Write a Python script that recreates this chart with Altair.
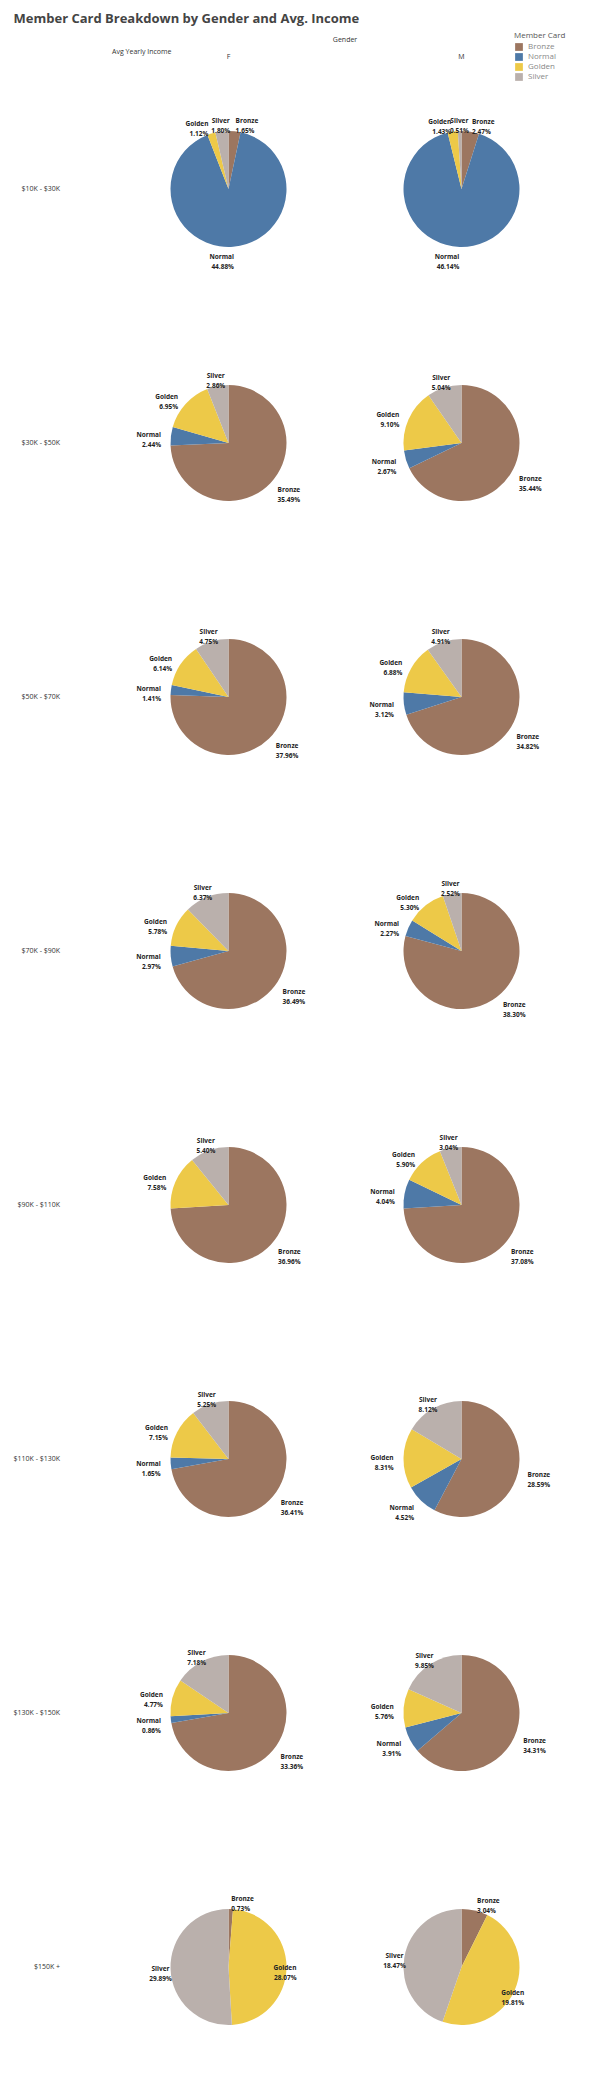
import altair as alt
import pandas as pd

incomes = ["$10K - $30K", "$30K - $50K", "$50K - $70K", "$70K - $90K",
           "$90K - $110K", "$110K - $130K", "$130K - $150K", "$150K +"]
cards = ["Bronze", "Normal", "Golden", "Silver"]
card_colors = ["#9c7660", "#4e79a7", "#edc948", "#bab0ac"]

# percent of row total, order: Bronze, Normal, Golden, Silver (None = no slice)
female = [
    [1.65, 44.88, 1.12, 1.80],
    [35.49, 2.44, 6.95, 2.86],
    [37.96, 1.41, 6.14, 4.75],
    [36.49, 2.97, 5.78, 6.37],
    [36.96, None, 7.58, 5.40],
    [36.41, 1.65, 7.15, 5.25],
    [33.36, 0.86, 4.77, 7.18],
    [0.73, None, 28.07, 29.89],
]
male = [
    [2.47, 46.14, 1.43, 0.51],
    [35.44, 2.67, 9.10, 5.04],
    [34.82, 3.12, 6.88, 4.91],
    [38.30, 2.27, 5.30, 2.52],
    [37.08, 4.04, 5.90, 3.04],
    [28.59, 4.52, 8.31, 8.12],
    [34.31, 3.91, 5.76, 9.85],
    [3.04, None, 19.81, 18.47],
]

rows = []
for gender, table in [("F", female), ("M", male)]:
    for income, vals in zip(incomes, table):
        for i, (card, v) in enumerate(zip(cards, vals)):
            if v is None:
                continue
            rows.append({"Income": income, "Gender": gender, "Card": card,
                         "idx": i, "pct": v, "label": f"{card}\n{v:.2f}%"})
df = pd.DataFrame(rows)

font = "Open Sans"

base = alt.Chart().encode(
    theta=alt.Theta("pct:Q", stack=True),
    order=alt.Order("idx:Q"),
)

arcs = base.mark_arc(outerRadius=58).encode(
    color=alt.Color("Card:N", scale=alt.Scale(domain=cards, range=card_colors),
                    legend=alt.Legend(title="Member Card", orient="none", legendX=402,
                                      legendY=-30, symbolType="square", symbolSize=60,
                                      labelColor="#888", titleColor="#555",
                                      titleFontWeight="normal", titleFontSize=8,
                                      labelFontSize=8, rowPadding=1, titlePadding=2)),
)


def label_layer(card, align):
    # text is drawn in every slice so the stack keeps the same angles
    return base.mark_text(radius=68, font=font, fontSize=6.5, fontWeight="bold",
                          align=align, lineBreak="\n", lineHeight=10).encode(
        text="label:N",
        opacity=alt.condition(alt.datum.Card == card, alt.value(1), alt.value(0)),
        color=alt.value("#222"),
    )


layers = [arcs, label_layer("Bronze", "left"), label_layer("Normal", "right"),
          label_layer("Golden", "right"), label_layer("Silver", "center")]

chart = alt.layer(*layers, data=df).properties(
    width=233, height=254
).facet(
    row=alt.Row("Income:N", sort=incomes,
                header=alt.Header(title="Avg Yearly Income", titleOrient="top",
                                  titleAngle=0, titleFontSize=7, titleFontWeight="normal",
                                  titleColor="#333", labelAngle=0, labelAlign="left",
                                  labelOrient="left", labelFontSize=7, labelColor="#333",
                                  labelPadding=52, titleAlign="left", titlePadding=0)),
    column=alt.Column("Gender:N", sort=["F", "M"],
                      header=alt.Header(title="Gender", titleFontSize=7,
                                        titleFontWeight="normal", titleColor="#333",
                                        labelFontSize=7, labelColor="#333",
                                        titlePadding=0, labelPadding=2)),
    spacing=0,
).properties(
    title=alt.TitleParams("Member Card Breakdown by Gender and Avg. Income",
                          anchor="start", fontSize=13, fontWeight="bold",
                          color="#444", font=font, offset=6),
).configure_view(stroke=None).configure(font=font)

chart.save("out.html", embed_options={"renderer": "svg", "actions": False})
